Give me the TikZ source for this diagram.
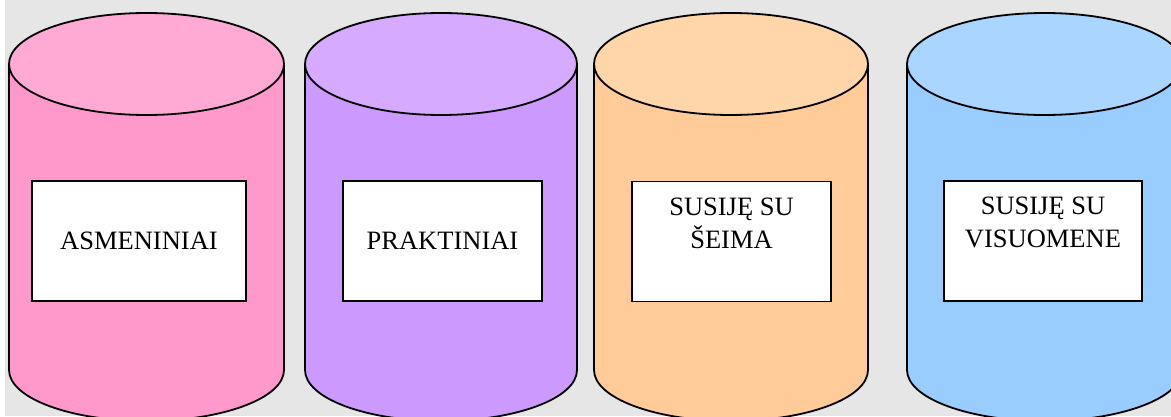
\documentclass[tikz,border=0pt]{standalone}
\usepackage{fontspec}
\setmainfont{Liberation Serif}
\usetikzlibrary{positioning}
\definecolor{bggray}{HTML}{E6E6E6}
\definecolor{pinkside}{HTML}{FF99CC}
\definecolor{pinktop}{HTML}{FFAAD5}
\definecolor{lilacside}{HTML}{CC99FF}
\definecolor{lilactop}{HTML}{D5AAFF}
\definecolor{peachside}{HTML}{FFCC99}
\definecolor{peachtop}{HTML}{FFD5AA}
\definecolor{skyside}{HTML}{99CCFF}
\definecolor{skytop}{HTML}{AAD5FF}

\begin{document}
\begin{tikzpicture}[x=1pt, y=-1pt,
		cyl/.style = {draw, line width=1.8pt},
		box/.style = {draw, fill=white, line width=1.5pt, minimum width=#1,
			minimum height=120pt, inner sep=0pt, align=center,
			font=\fontsize{26.5}{33}\selectfont},
		box/.default = 200pt,
		toptext/.style = {anchor=north, inner sep=0pt, yshift=-17pt, align=center,
			font=\fontsize{26.5}{33}\selectfont}]
	\useasboundingbox (0,0) rectangle (1171,417);
	\fill[bggray] (5,0) rectangle (1171,416);
	\begin{scope}
		\clip (5,0) rectangle (1171,416);
		\foreach \cx/\rx/\side/\top in {146.5/137.5/pinkside/pinktop, 441/136/lilacside/lilactop,
				731/137/peachside/peachtop, 1044.5/137.5/skyside/skytop} {
			\draw[cyl, fill=\side] (\cx-\rx,64) -- (\cx-\rx,370)
				arc[start angle=180, end angle=360, x radius=\rx pt, y radius=51pt]
				-- (\cx+\rx,64);
			\draw[cyl, fill=\top] (\cx,64) ellipse[x radius=\rx pt, y radius=51pt];
		}
	\end{scope}
	\node[box=214pt] (asmen) at (139,241) {ASMENINIAI};
	\node[box=199pt] (prakt) at (442.5,241) {PRAKTINIAI};
	\node[box=199pt, label={[toptext]north:SUSIJĘ SU\\ŠEIMA}] (seima) at (731.5,241.5) {};
	\node[box=198pt, label={[toptext]north:SUSIJĘ SU\\VISUOMENE}] (visuom) at (1043,241) {};
\end{tikzpicture}
\end{document}
